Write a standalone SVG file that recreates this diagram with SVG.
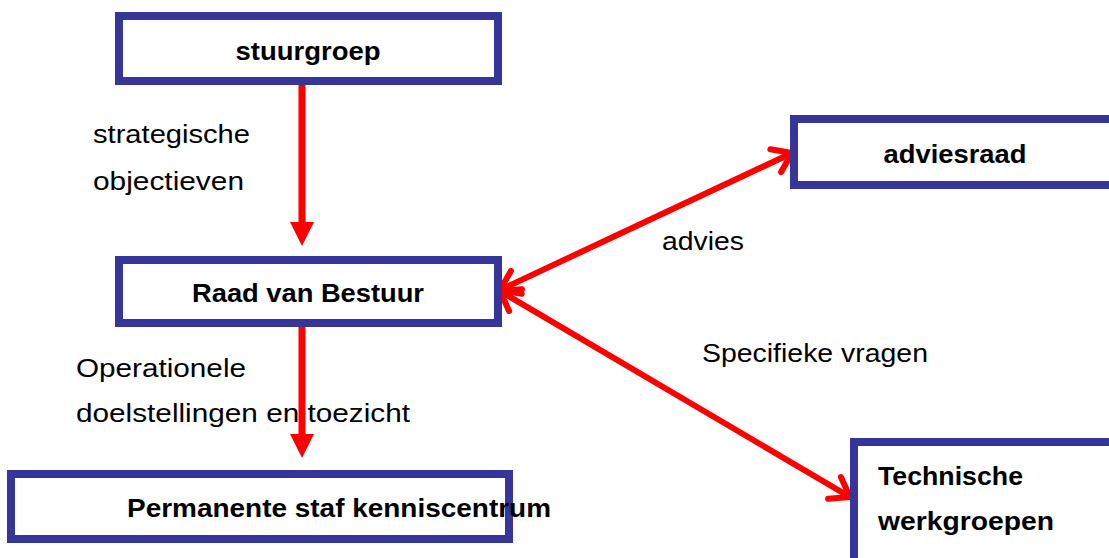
<svg xmlns="http://www.w3.org/2000/svg" width="1109" height="558" viewBox="0 0 1109 558">
<style>
.box{fill:#fff;stroke:#35359A;stroke-width:8}
.lbl{font-family:"Liberation Sans",Arial,sans-serif;font-size:26px;font-weight:bold;fill:#000}
.txt{font-family:"Liberation Sans",Arial,sans-serif;font-size:26px;fill:#000}
.ln{stroke:#FF0000;stroke-width:6;fill:none;stroke-linecap:round;stroke-linejoin:round}
.vl{stroke:#FF0000;stroke-width:7;fill:none}
.hd{fill:#FF0000}
</style>
<rect width="1109" height="558" fill="#fff"/>
<g id="connectors">
<line class="vl" x1="302" y1="85" x2="302" y2="226"/>
<polygon class="hd" points="290,222 314,222 302,246"/>
<line class="vl" x1="302" y1="327" x2="302" y2="438"/>
<polygon class="hd" points="290,434 314,434 302,458"/>
<line class="ln" x1="500" y1="290" x2="792" y2="153"/>
<polyline class="ln" points="770.3,149.2 792,153 781.1,172.1"/>
<polyline class="ln" points="510.9,270.9 500,290 521.7,293.8"/>
<line class="ln" x1="500" y1="291" x2="850" y2="497"/>
<polyline class="ln" points="828.1,498.7 850,497 840.9,477"/>
<polyline class="ln" points="509.1,311 500,291 521.9,289.3"/>
</g>
<g id="stuurgroep">
<rect class="box" x="119" y="16" width="379" height="65"/>
<text class="lbl" x="308" y="60" text-anchor="middle" textLength="145" lengthAdjust="spacingAndGlyphs">stuurgroep</text>
</g>
<g id="raad">
<rect class="box" x="119" y="260" width="379" height="63"/>
<text class="lbl" x="308" y="302" text-anchor="middle" textLength="232" lengthAdjust="spacingAndGlyphs">Raad van Bestuur</text>
</g>
<g id="permanente">
<rect class="box" x="11" y="474" width="498" height="65"/>
<text class="lbl" x="339" y="517" text-anchor="middle" textLength="424" lengthAdjust="spacingAndGlyphs">Permanente staf kenniscentrum</text>
</g>
<g id="adviesraad">
<rect class="box" x="794" y="119" width="330" height="66"/>
<text class="lbl" x="955" y="163" text-anchor="middle" textLength="143" lengthAdjust="spacingAndGlyphs">adviesraad</text>
</g>
<g id="technische">
<rect class="box" x="854" y="442" width="300" height="130"/>
<text class="lbl" x="878" y="485" textLength="145" lengthAdjust="spacingAndGlyphs">Technische</text>
<text class="lbl" x="878" y="530" textLength="176" lengthAdjust="spacingAndGlyphs">werkgroepen</text>
</g>
<g id="labels">
<text class="txt" x="93" y="143" textLength="157" lengthAdjust="spacingAndGlyphs">strategische</text>
<text class="txt" x="93" y="190" textLength="151" lengthAdjust="spacingAndGlyphs">objectieven</text>
<text class="txt" x="662" y="250" textLength="82" lengthAdjust="spacingAndGlyphs">advies</text>
<text class="txt" x="702" y="362" textLength="226" lengthAdjust="spacingAndGlyphs">Specifieke vragen</text>
<text class="txt" x="76" y="377" textLength="170" lengthAdjust="spacingAndGlyphs">Operationele</text>
<text class="txt" x="76" y="422" textLength="334" lengthAdjust="spacingAndGlyphs">doelstellingen en toezicht</text>
</g>
</svg>
